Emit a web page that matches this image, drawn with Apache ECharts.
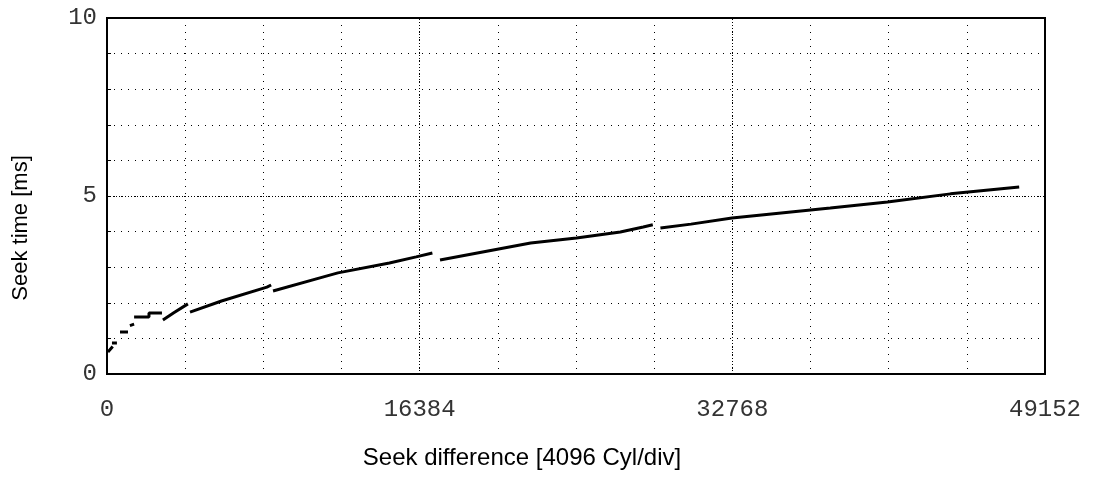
<!DOCTYPE html>
<html lang="en">
<head>
    <meta charset="UTF-8">
    <title>Seek time</title>
    <script src="https://cdn.jsdelivr.net/npm/echarts@6/dist/echarts.min.js"></script>
    <style>
        html, body { margin: 0; padding: 0; background: #fff; }
        #main { width: 1096px; height: 482px; }
    </style>
</head>
<body>
<div id="main"></div>
<script>
    // seek difference (cylinders) and seek time (ms); null marks a break in the trace
    var seekCyl = [50, 300, null, 260, 520, null, 680, 1100, null, 1200, 1420, null,
        1420, 2200, 2200, 2880, null, 2930, 3500, 4240, null,
        4350, 6000, 8380, 8600, null,
        8700, 11300, 12100, 14800, 16200, 17050, null,
        17450, 22200, 24600, 26900, 28100, 28600, null,
        29000, 30600, 32750, 37900, 40900, 44200, 47800];
    var seekMs = [0.62, 0.77, null, 0.87, 0.87, null, 1.18, 1.18, null, 1.36, 1.40, null,
        1.60, 1.60, 1.71, 1.71, null, 1.52, 1.72, 1.97, null,
        1.74, 2.05, 2.44, 2.50, null,
        2.33, 2.72, 2.84, 3.12, 3.29, 3.40, null,
        3.20, 3.68, 3.82, 3.99, 4.13, 4.19, null,
        4.10, 4.21, 4.38, 4.66, 4.83, 5.06, 5.25];
    var xLabels = [0, 16384, 32768, 49152];
    var yLabels = [0, 5, 10];

    var points = [];
    for (var i = 0; i < seekCyl.length; i++) {
        if (seekMs[i] == null) {
            points.push([seekCyl[i - 1], '-']);
        } else {
            points.push([seekCyl[i], seekMs[i]]);
        }
    }

    var tickFont = {
        fontFamily: 'Liberation Mono',
        fontSize: 24,
        color: '#333'
    };

    var option = {
        animation: false,
        grid: {
            left: 107,
            right: 51,
            top: 18,
            bottom: 108,
            show: true,
            borderColor: '#000',
            borderWidth: 2
        },
        xAxis: {
            type: 'value',
            min: 0,
            max: 49152,
            interval: 4096,
            axisLine: { show: true, lineStyle: { color: '#000', width: 2 } },
            axisTick: { show: false },
            axisLabel: Object.assign({
                margin: 24,
                formatter: function (v) {
                    return xLabels.indexOf(v) >= 0 ? String(v) : '';
                }
            }, tickFont),
            splitLine: { show: true, lineStyle: { color: '#000', type: [1, 6], width: 1 } }
        },
        yAxis: {
            type: 'value',
            min: 0,
            max: 10,
            interval: 1,
            axisLine: { show: true, lineStyle: { color: '#000', width: 2 } },
            axisTick: { show: true, inside: true, length: 4, lineStyle: { color: '#000' } },
            axisLabel: Object.assign({
                margin: 10,
                formatter: function (v) {
                    return yLabels.indexOf(v) >= 0 ? String(v) : '';
                }
            }, tickFont),
            splitLine: { show: true, lineStyle: { color: '#000', type: [1, 6], width: 1 } }
        },
        graphic: [
            {
                type: 'text',
                x: 522,
                y: 458,
                style: {
                    text: 'Seek difference [4096 Cyl/div]',
                    fontFamily: 'Liberation Sans',
                    fontSize: 24,
                    fill: '#000',
                    align: 'center',
                    verticalAlign: 'middle'
                }
            },
            {
                type: 'text',
                x: 21,
                y: 228,
                rotation: Math.PI / 2,
                style: {
                    text: 'Seek time [ms]',
                    fontFamily: 'Liberation Sans',
                    fontSize: 22,
                    fill: '#000',
                    align: 'center',
                    verticalAlign: 'middle'
                }
            }
        ],
        series: [
            {
                type: 'line',
                data: points,
                showSymbol: false,
                symbol: 'none',
                connectNulls: false,
                lineStyle: { color: '#000', width: 3 },
                markLine: {
                    silent: true,
                    symbol: 'none',
                    label: { show: false },
                    lineStyle: { color: '#000', type: [1, 2], width: 1 },
                    data: [
                        { yAxis: 5 },
                        { xAxis: 16384 },
                        { xAxis: 32768 }
                    ]
                }
            }
        ]
    };
    echarts.init(document.getElementById('main')).setOption(option);
</script>
</body>
</html>
